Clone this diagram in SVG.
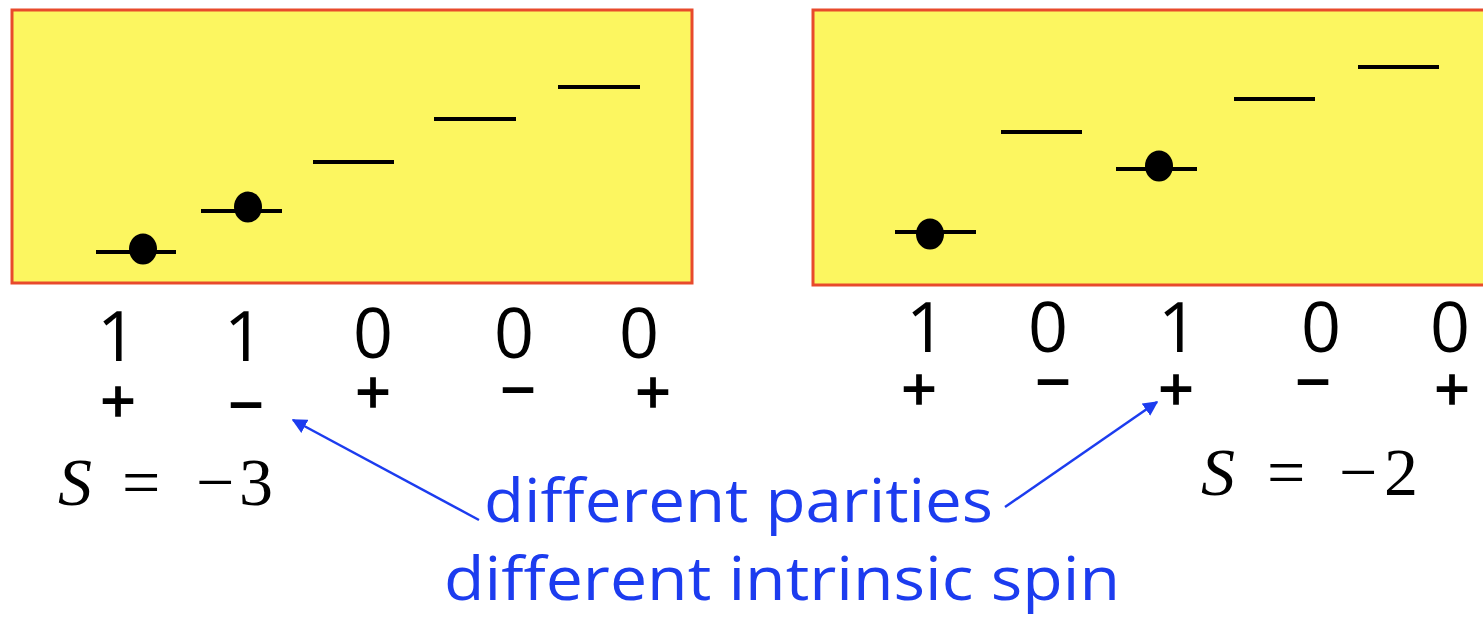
<svg xmlns="http://www.w3.org/2000/svg" width="1483" height="619" viewBox="0 0 1483 619">
<style>
.box{fill:#fcf660;stroke:#e84a2c;stroke-width:3}
.lvl{stroke:#000;stroke-width:4}
.dot{fill:#000}
.num{font-family:"Open Sans",sans-serif;font-size:70px;fill:#000;text-anchor:middle}
.sgn{font-family:"Liberation Sans",Arial,sans-serif;font-size:60px;fill:#000;stroke:#000;stroke-width:1.4;text-anchor:middle}
.math{font-family:"Liberation Serif","Times New Roman",serif;font-size:68px;fill:#000}
.blue{font-family:"Open Sans",sans-serif;font-size:60px;fill:#1c3cef}
.conn{stroke:#1c3cef;stroke-width:2.5;fill:none}
</style>
<defs>
<marker id="ah" viewBox="0 0 10 10" refX="9" refY="5" markerWidth="6" markerHeight="6" orient="auto" markerUnits="strokeWidth">
<path d="M0,0 L10,5 L0,10 z" fill="#1c3cef"/>
</marker>
</defs>
<rect width="1483" height="619" fill="#fff"/>
<g id="boxS3">
<rect class="box" x="12" y="10" width="680" height="273"/>
<line class="lvl" x1="96" y1="252" x2="176" y2="252"/>
<ellipse class="dot" cx="143" cy="249" rx="14" ry="15.5"/>
<line class="lvl" x1="201" y1="211" x2="282" y2="211"/>
<ellipse class="dot" cx="248" cy="207" rx="14" ry="15.5"/>
<line class="lvl" x1="313" y1="162" x2="394" y2="162"/>
<line class="lvl" x1="434" y1="119" x2="516" y2="119"/>
<line class="lvl" x1="558" y1="87" x2="640" y2="87"/>
</g>
<g id="boxS2">
<rect class="box" x="813" y="10" width="680" height="275"/>
<line class="lvl" x1="895" y1="232" x2="976" y2="232"/>
<ellipse class="dot" cx="930" cy="234" rx="14" ry="15.5"/>
<line class="lvl" x1="1001" y1="132" x2="1082" y2="132"/>
<line class="lvl" x1="1116" y1="169" x2="1197" y2="169"/>
<ellipse class="dot" cx="1159" cy="166" rx="14" ry="15.5"/>
<line class="lvl" x1="1234" y1="99" x2="1315" y2="99"/>
<line class="lvl" x1="1358" y1="67" x2="1439" y2="67"/>
</g>
<g id="labelsS3">
<text class="num" x="117" y="361">1</text>
<text class="num" x="244" y="361">1</text>
<text class="num" x="373" y="358">0</text>
<text class="num" x="514" y="358">0</text>
<text class="num" x="639" y="358">0</text>
<text class="sgn" x="118" y="421">+</text>
<text class="sgn" x="246" y="425">−</text>
<text class="sgn" x="373" y="412">+</text>
<text class="sgn" x="518" y="410">−</text>
<text class="sgn" x="653" y="412">+</text>
</g>
<g id="labelsS2">
<text class="num" x="926" y="352">1</text>
<text class="num" x="1048" y="352">0</text>
<text class="num" x="1178" y="352">1</text>
<text class="num" x="1321" y="352">0</text>
<text class="num" x="1450" y="352">0</text>
<text class="sgn" x="919" y="409">+</text>
<text class="sgn" x="1053" y="402">−</text>
<text class="sgn" x="1176" y="409">+</text>
<text class="sgn" x="1313" y="402">−</text>
<text class="sgn" x="1452" y="409">+</text>
</g>
<g id="strangenessS3">
<text class="math" y="505"><tspan x="58" font-style="italic">S</tspan><tspan x="122">=</tspan><tspan x="196">−</tspan><tspan x="239">3</tspan></text>
</g>
<g id="strangenessS2">
<text class="math" y="495"><tspan x="1201" font-style="italic">S</tspan><tspan x="1267">=</tspan><tspan x="1339">−</tspan><tspan x="1384">2</tspan></text>
</g>
<g id="caption">
<text class="blue" x="484" y="522" textLength="509" lengthAdjust="spacingAndGlyphs">different parities</text>
<text class="blue" x="444" y="600" textLength="676" lengthAdjust="spacingAndGlyphs">different intrinsic spin</text>
</g>
<g id="connectors">
<line class="conn" x1="479" y1="520" x2="293" y2="420" marker-end="url(#ah)"/>
<line class="conn" x1="1005" y1="507" x2="1157" y2="402" marker-end="url(#ah)"/>
</g>
</svg>
